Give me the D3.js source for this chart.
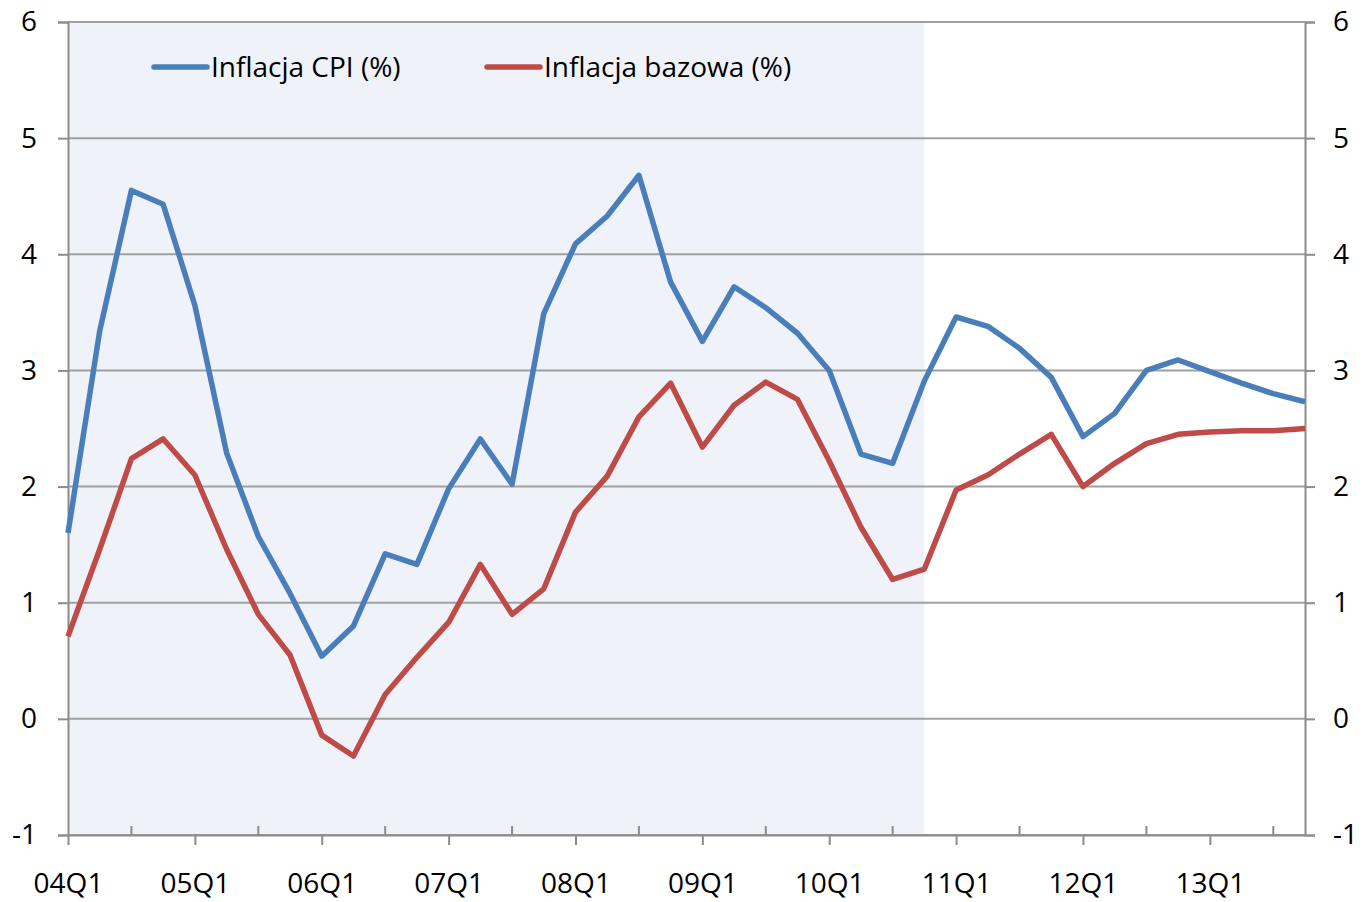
<!DOCTYPE html>
<html lang="pl">
<head>
    <meta charset="UTF-8">
    <title>Inflacja CPI i bazowa</title>
    <script src="https://d3js.org/d3.v7.min.js"></script>
    <style>
        body {
            margin: 0;
            background: #ffffff;
            font-family: "Open Sans", "Noto Sans", sans-serif;
        }
        .tick-label {
            font-family: "Open Sans", "Noto Sans", sans-serif;
            font-size: 28px;
            fill: #000;
        }
        .legend-label {
            font-family: "Open Sans", "Noto Sans", sans-serif;
            font-size: 28px;
            fill: #000;
        }
    </style>
</head>
<body>
    <svg id="chart" width="1366" height="902"></svg>

    <script>
        // quarters 04Q1 .. 13Q4
        const years = ["04", "05", "06", "07", "08", "09", "10", "11", "12", "13"];
        const quarters = [];
        years.forEach(y => [1, 2, 3, 4].forEach(q => quarters.push(y + "Q" + q)));

        const cpi = [
            1.60, 3.34, 4.55, 4.43, 3.56, 2.29, 1.57, 1.08,
            0.54, 0.80, 1.42, 1.33, 1.98, 2.41, 2.02, 3.49,
            4.09, 4.33, 4.68, 3.76, 3.25, 3.72, 3.54, 3.32,
            3.00, 2.28, 2.20, 2.91, 3.46, 3.38, 3.19, 2.94,
            2.43, 2.63, 3.00, 3.09, 2.99, 2.89, 2.80, 2.73
        ];
        const core = [
            0.71, 1.46, 2.24, 2.41, 2.10, 1.46, 0.90, 0.55,
            -0.14, -0.32, 0.21, 0.53, 0.83, 1.33, 0.90, 1.12,
            1.78, 2.09, 2.60, 2.89, 2.34, 2.70, 2.90, 2.75,
            2.22, 1.65, 1.20, 1.29, 1.97, 2.10, 2.28, 2.45,
            2.00, 2.20, 2.37, 2.45, 2.47, 2.48, 2.48, 2.50
        ];
        const yTicks = [-1, 0, 1, 2, 3, 4, 5, 6];
        const historyEnd = "10Q4";   // shaded part = history

        const series = [
            { name: "Inflacja CPI (%)", values: cpi, color: "#4a7ebb" },
            { name: "Inflacja bazowa (%)", values: core, color: "#be4b48" }
        ];

        const margin = { top: 22, right: 61, bottom: 67, left: 68 };
        const width = 1366 - margin.left - margin.right;
        const height = 902 - margin.top - margin.bottom;

        const svg = d3.select("#chart")
          .append("g")
            .attr("transform", `translate(${margin.left}, ${margin.top})`);

        const x = d3.scalePoint()
            .domain(quarters)
            .range([0, width]);

        const y = d3.scaleLinear()
            .domain([-1, 6])
            .range([height, 0]);

        const fmt = d => String(d);

        // shaded history
        svg.append("rect")
            .attr("x", 0)
            .attr("y", 0)
            .attr("width", x(historyEnd))
            .attr("height", height)
            .attr("fill", "#eff3f9");

        // gridlines
        svg.append("g")
            .selectAll("line")
            .data(yTicks)
            .enter().append("line")
            .attr("x1", 0)
            .attr("x2", width)
            .attr("y1", d => y(d))
            .attr("y2", d => y(d))
            .attr("stroke", "#a0a0a0")
            .attr("stroke-width", 2);

        function styleAxis(g) {
            g.select(".domain").attr("stroke", "#8c8c8c").attr("stroke-width", 2);
            g.selectAll(".tick line").attr("stroke", "#8c8c8c").attr("stroke-width", 2);
            g.selectAll(".tick text").attr("class", "tick-label");
        }

        // left axis
        svg.append("g")
            .call(d3.axisLeft(y).tickValues(yTicks).tickFormat(fmt).tickSize(10).tickPadding(21))
            .call(styleAxis);

        // right axis
        svg.append("g")
            .attr("transform", `translate(${width}, 0)`)
            .call(d3.axisRight(y).tickValues(yTicks).tickFormat(fmt).tickSize(10).tickPadding(18))
            .call(styleAxis);

        // bottom axis: major ticks at Q1 (outside), minor at Q3 (inside)
        const q1 = quarters.filter(q => q.endsWith("Q1"));
        const q3 = quarters.filter(q => q.endsWith("Q3"));

        svg.append("g")
            .attr("transform", `translate(0, ${height})`)
            .call(d3.axisBottom(x).tickValues(q1).tickSize(10).tickPadding(28).tickSizeOuter(0))
            .call(styleAxis);

        svg.append("g")
            .attr("transform", `translate(0, ${height})`)
            .selectAll("line")
            .data(q3)
            .enter().append("line")
            .attr("x1", d => x(d))
            .attr("x2", d => x(d))
            .attr("y1", 0)
            .attr("y2", -9)
            .attr("stroke", "#8c8c8c")
            .attr("stroke-width", 2);

        // lines
        const line = d3.line()
            .x((d, i) => x(quarters[i]))
            .y(d => y(d));

        series.forEach(s => {
            svg.append("path")
                .datum(s.values)
                .attr("fill", "none")
                .attr("stroke", s.color)
                .attr("stroke-width", 5.5)
                .attr("stroke-linejoin", "round")
                .attr("d", line);
        });

        // legend
        const legendX = [86, 419];
        series.forEach((s, i) => {
            const g = svg.append("g")
                .attr("transform", `translate(${legendX[i]}, 45)`);
            g.append("line")
                .attr("x1", 0)
                .attr("x2", 53)
                .attr("stroke", s.color)
                .attr("stroke-width", 5.5)
                .attr("stroke-linecap", "round");
            g.append("text")
                .attr("class", "legend-label")
                .attr("x", 57)
                .attr("dy", "0.35em")
                .text(s.name);
        });
    </script>
</body>
</html>
